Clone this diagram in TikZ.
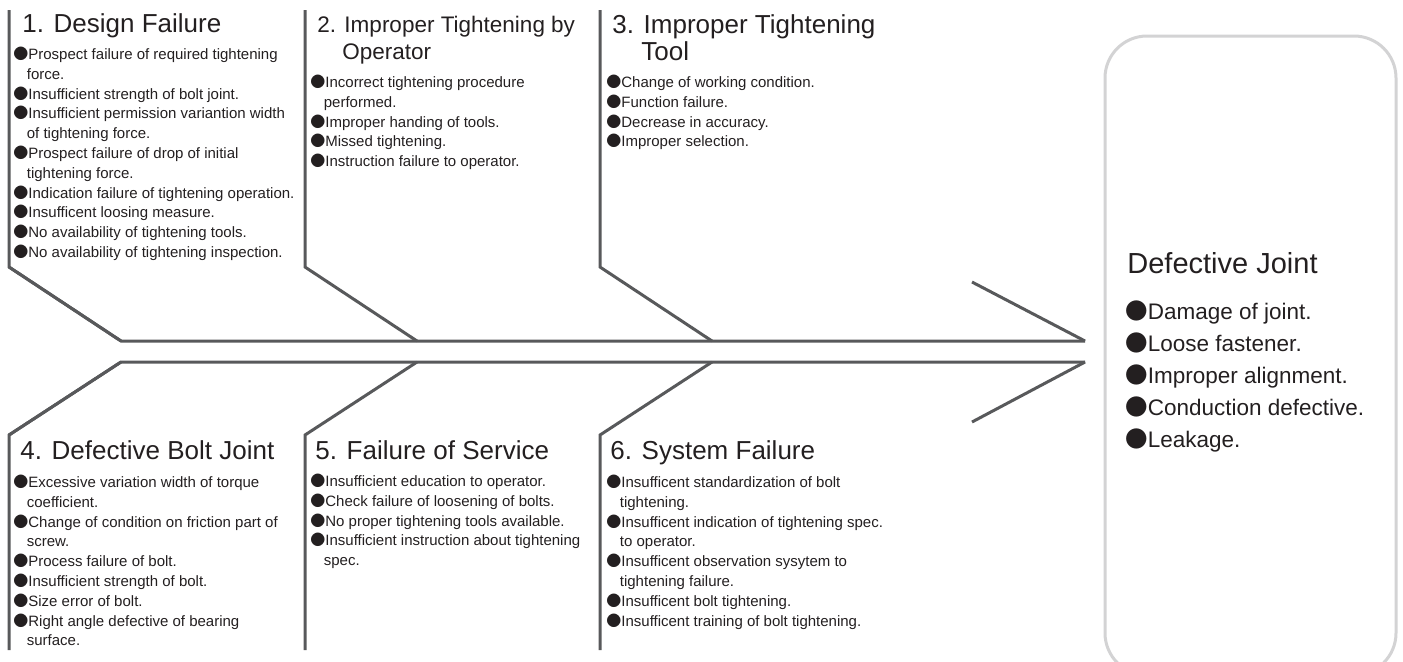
\documentclass[tikz,border=0pt]{standalone}
\usepackage{fontspec}
\setmainfont{Liberation Sans}
\newfontfamily\cjk{Noto Sans CJK JP}
\usetikzlibrary{positioning}
\definecolor{cbone}{HTML}{58595B}
\definecolor{cink}{HTML}{231F20}
\definecolor{cframe}{HTML}{D3D3D4}
\newcommand{\tp}{\rule{0pt}{1em}}
\newcommand{\dotb}{{\cjk ●}}
\newcommand{\itm}{\\\dotb}
\newcommand{\wrapl}{\\\hspace*{0.9em}}
\tikzset{
  bone/.style={draw=cbone, line width=1.5pt, line join=miter},
  cause/.style={anchor=north west, inner sep=0pt, align=left, text=cink, font=\fontsize{13}{13.5}\selectfont},
  items/.style={anchor=north west, inner sep=0pt, align=left, text=cink, font=\fontsize{7.5}{9.9}\selectfont},
}

\begin{document}
\begin{tikzpicture}[
    x=0.5pt, y=-0.5pt,
    smallcause/.style={cause, font=\fontsize{11.25}{13.5}\selectfont},
    effbox/.style={draw=cframe, line width=1.5pt, rounded corners=21pt, inner sep=0pt, minimum width=145.5pt, minimum height=319.5pt},
    efftitle/.style={cause, font=\fontsize{14.5}{16}\selectfont},
    effitems/.style={items, font=\fontsize{11.25}{16}\selectfont},
  ]
  \useasboundingbox (0,0) rectangle (1403,661);
  \clip (0,0) rectangle (1403,661);

  % bones
  \foreach \bx [count=\i] in {9,305,600} {
    \coordinate (up\i) at (\bx,10);
    \coordinate (ub\i) at (\bx,267);
    \coordinate (uj\i) at (\bx+112,341);
    \coordinate (lo\i) at (\bx,650);
    \coordinate (lb\i) at (\bx,435);
    \coordinate (lj\i) at (\bx+112,362);
    \draw[bone] (up\i) -- (ub\i) -- (uj\i);
    \draw[bone] (lo\i) -- (lb\i) -- (lj\i);
  }

  % spine and head
  \coordinate (head1) at (1085,341);
  \coordinate (head2) at (1085,362);
  \coordinate (barb1) at (972,282);
  \coordinate (barb2) at (972,422);
  \draw[bone] (ub1) -- (uj1) -- (head1);
  \draw[bone] (lb1) -- (lj1) -- (head2);
  \draw[bone] (barb1) -- (head1);
  \draw[bone] (head2) -- (barb2);

  % design failure (top of node = first baseline - 1em)
  \node[cause] (c1) at (22,6) {\tp 1. Design Failure};
  \node[items] (i1) at (13,44) {\tp\dotb Prospect failure of required tightening\wrapl force.\itm Insufficient strength of bolt joint.\itm Insufficient permission variantion width\wrapl of tightening force.\itm Prospect failure of drop of initial\wrapl tightening force.\itm Indication failure of tightening operation.\itm Insufficent loosing measure.\itm No availability of tightening tools.\itm No availability of tightening inspection.};

  % operator
  \node[smallcause] (c2) at (317,10) {\tp 2. Improper Tightening by\\\phantom{2.\ }Operator};
  \node[items] (i2) at (310,72) {\tp\dotb Incorrect tightening procedure\wrapl performed.\itm Improper handing of tools.\itm Missed tightening.\itm Instruction failure to operator.};

  % tool
  \node[cause] (c3) at (612,7) {\tp 3. Improper Tightening\\\phantom{3.\ }Tool};
  \node[items] (i3) at (606,72) {\tp\dotb Change of working condition.\itm Function failure.\itm Decrease in accuracy.\itm Improper selection.};

  % bolt joint
  \node[cause] (c4) at (20,433) {\tp 4. Defective Bolt Joint};
  \node[items] (i4) at (13,472) {\tp\dotb Excessive variation width of torque\wrapl coefficient.\itm Change of condition on friction part of\wrapl screw.\itm Process failure of bolt.\itm Insufficient strength of bolt.\itm Size error of bolt.\itm Right angle defective of bearing\wrapl surface.};

  % service
  \node[cause] (c5) at (315,433) {\tp 5. Failure of Service};
  \node[items] (i5) at (310,471) {\tp\dotb Insufficient education to operator.\itm Check failure of loosening of bolts.\itm No proper tightening tools available.\itm Insufficient instruction about tightening\wrapl spec.};

  % system
  \node[cause] (c6) at (610,433) {\tp 6. System Failure};
  \node[items] (i6) at (606,472) {\tp\dotb Insufficent standardization of bolt\wrapl tightening.\itm Insufficent indication of tightening spec.\wrapl to operator.\itm Insufficent observation sysytem to\wrapl tightening failure.\itm Insufficent bolt tightening.\itm Insufficent training of bolt tightening.};

  % effect
  \node[effbox] (joint) at (1250.5,355.5) {};
  \node[efftitle] (jt) at (1127,244) {\tp Defective Joint};
  \node[effitems] (ji) at (1125,296.5) {\tp\dotb Damage of joint.\itm Loose fastener.\itm Improper alignment.\itm Conduction defective.\itm Leakage.};
\end{tikzpicture}
\end{document}
